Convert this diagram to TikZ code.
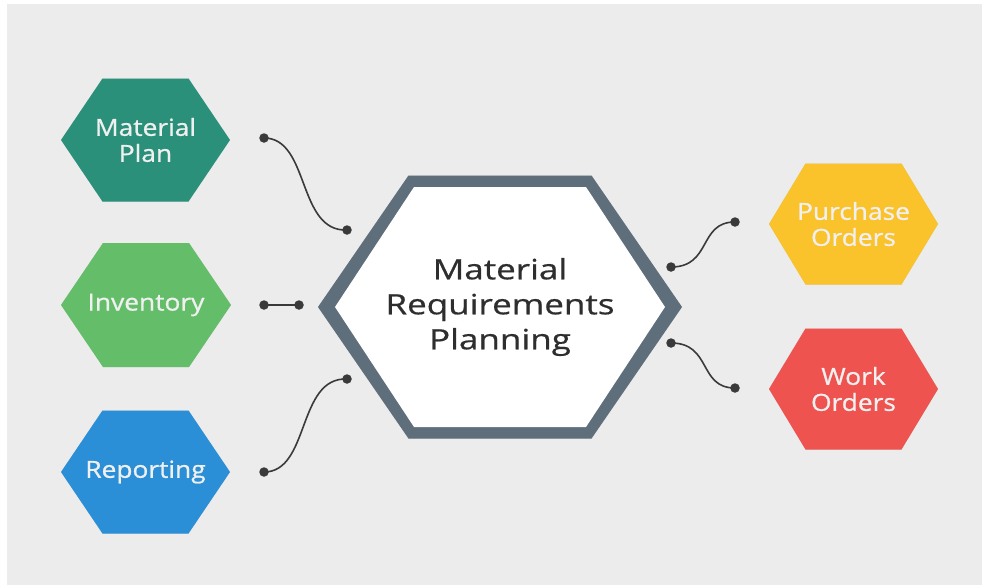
\documentclass[tikz,border=0pt]{standalone}
\usepackage{fontspec}
\setmainfont{Open Sans}
\newfontfamily\smallhexfont[FakeStretch=1.12,FakeBold=0.9]{Open Sans}
\newfontfamily\bighexfont[FakeStretch=1.25,FakeBold=0.6]{Open Sans}
\pgfdeclarelayer{background}
\pgfdeclarelayer{shadowlayer}
\pgfsetlayers{shadowlayer,background,main}
\definecolor{bggray}{HTML}{ECECEC}
\definecolor{teal}{HTML}{2A9079}
\definecolor{leaf}{HTML}{64BE69}
\definecolor{sky}{HTML}{2A8FD6}
\definecolor{sun}{HTML}{FAC22B}
\definecolor{tomato}{HTML}{EF5350}
\definecolor{slate}{HTML}{5E6E7A}
\definecolor{ink}{HTML}{2E2E2E}
\definecolor{wire}{HTML}{3A3A3A}
% #1 style, #2 node, #3 half width, #4 half height, #5 half top edge
\newcommand\hexfill[5][]{%
  \path[#1] (#2.center) ++(-#3,0) -- ++({#3-#5},{-#4}) -- ++({2*#5},0)
    -- ++({#3-#5},{#4}) -- ++({#5-#3},{#4}) -- ++({-2*#5},0) -- cycle;}
\newcommand\hexwithshadow[5]{%
  \begin{pgfonlayer}{shadowlayer}
    \hexfill[fill=black,fill opacity=0.05,xshift=5pt,yshift=-9pt]{#1}{#2}{#3}{#4}
    \hexfill[fill=black,fill opacity=0.07,xshift=3pt,yshift=-5pt]{#1}{#2}{#3}{#4}
  \end{pgfonlayer}
  \begin{pgfonlayer}{background}
    \hexfill[fill=#5]{#1}{#2}{#3}{#4}
  \end{pgfonlayer}}
\tikzset{
  hexlabel/.style={align=center, text=white!94!black,
    font=\smallhexfont\fontsize{23.5}{26}\selectfont, inner sep=0pt},
  mainlabel/.style={align=center, text=ink,
    font=\bighexfont\fontsize{28}{35}\selectfont, inner sep=0pt},
  dotnode/.style={circle, fill=wire, inner sep=0pt, minimum size=9.5pt},
  conn/.style={draw=wire, line width=1.6pt}
}
\begin{document}
\begin{tikzpicture}[x=1pt,y=-1pt]
\useasboundingbox (0,0) rectangle (982,587);
\begin{pgfonlayer}{shadowlayer}
\fill[bggray] (7,4) rectangle (982,585);
\end{pgfonlayer}

% left hexagons
\node[hexlabel] (plan) at (145.5,140) {Material\\Plan};
\node[hexlabel] (inv)  at (146,305) {Inventory};
\node[hexlabel] (rep)  at (145.5,472) {Reporting};
% right hexagons
\node[hexlabel] (pur)  at (853.5,224) {Purchase\\Orders};
\node[hexlabel] (work) at (853.5,389) {Work\\Orders};
% central
\node[mainlabel] (mrp) at (500,307) {Material\\Requirements\\Planning};

\hexwithshadow{plan}{84.5}{61.5}{43}{teal}
\hexwithshadow{inv}{85}{62}{43}{leaf}
\hexwithshadow{rep}{84.5}{61.5}{43}{sky}
\hexwithshadow{pur}{84.5}{60.5}{48}{sun}
\hexwithshadow{work}{84.5}{60.5}{48}{tomato}
\begin{pgfonlayer}{shadowlayer}
  \hexfill[fill=black,fill opacity=0.05,xshift=6pt,yshift=-10pt]{mrp}{182}{131.5}{91.5}
  \hexfill[fill=black,fill opacity=0.07,xshift=3pt,yshift=-5pt]{mrp}{182}{131.5}{91.5}
\end{pgfonlayer}
\begin{pgfonlayer}{background}
  \hexfill[fill=slate]{mrp}{182}{131.5}{91.5}
  \hexfill[fill=white]{mrp}{165}{120}{86}
\end{pgfonlayer}

% connector dots
\node[dotnode] (p1) at (264,138) {};
\node[dotnode] (p2) at (347,230) {};
\node[dotnode] (i1) at (264,305) {};
\node[dotnode] (i2) at (299,305) {};
\node[dotnode] (r1) at (264,472) {};
\node[dotnode] (r2) at (347,379) {};
\node[dotnode] (u1) at (671,267) {};
\node[dotnode] (u2) at (735,222) {};
\node[dotnode] (w1) at (671,343) {};
\node[dotnode] (w2) at (735,388) {};

% connectors
\draw[conn] (p1.center) .. controls (310,138) and (297,232) .. (p2.center);
\draw[conn] (i1.center) -- (i2.center);
\draw[conn] (r1.center) .. controls (310,472) and (297,377) .. (r2.center);
\draw[conn] (u1.center) .. controls (712,267) and (698,222) .. (u2.center);
\draw[conn] (w1.center) .. controls (712,343) and (698,388) .. (w2.center);
\end{tikzpicture}
\end{document}
